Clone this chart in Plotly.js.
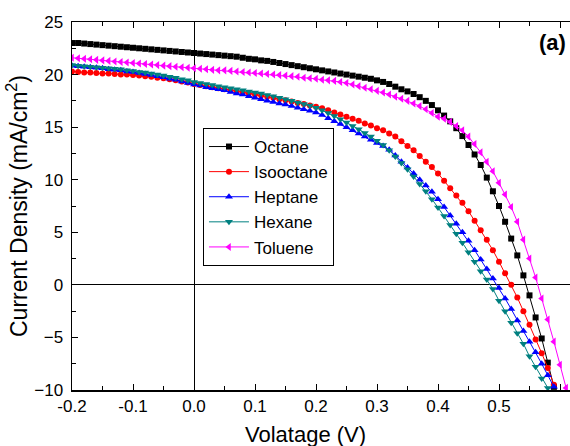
<!DOCTYPE html>
<html>
<head>
<meta charset="utf-8">
<script src="https://cdn.plot.ly/plotly-3.0.1.min.js"></script>
<style>html,body{margin:0;padding:0;background:#fff;}#chart{width:570px;height:446px;}</style>
</head>
<body>
<div id="chart"></div>
<script>
// Voltage grid (V)
var voltage = [-0.20,-0.19,-0.18,-0.17,-0.16,-0.15,-0.14,-0.13,-0.12,-0.11,
  -0.10,-0.09,-0.08,-0.07,-0.06,-0.05,-0.04,-0.03,-0.02,-0.01,
  0.00,0.01,0.02,0.03,0.04,0.05,0.06,0.07,0.08,0.09,
  0.10,0.11,0.12,0.13,0.14,0.15,0.16,0.17,0.18,0.19,
  0.20,0.21,0.22,0.23,0.24,0.25,0.26,0.27,0.28,0.29,
  0.30,0.31,0.32,0.33,0.34,0.35,0.36,0.37,0.38,0.39,
  0.40,0.41,0.42,0.43,0.44,0.45,0.46,0.47,0.48,0.49,
  0.50,0.51,0.52,0.53,0.54,0.55,0.56,0.57,0.58,0.59,
  0.60,0.61];

var seriesNames = ["Octane","Isooctane","Heptane","Hexane","Toluene"];

var octane = [23.0,23.0,22.95,22.9,22.85,22.8,22.75,22.7,22.65,22.6,
  22.55,22.5,22.45,22.4,22.35,22.3,22.25,22.2,22.15,22.1,
  22.05,22.0,21.95,21.9,21.85,21.8,21.75,21.7,21.6,21.5,
  21.45,21.35,21.3,21.2,21.1,21.0,20.9,20.8,20.7,20.6,
  20.5,20.4,20.3,20.2,20.1,20.0,19.9,19.8,19.7,19.6,
  19.45,19.3,19.1,18.85,18.6,18.4,18.15,17.85,17.5,17.1,
  16.6,16.1,15.55,14.9,14.15,13.3,12.4,11.4,10.2,8.9,
  7.5,6.0,4.4,2.8,0.9,-1.0,-3.1,-5.1,-7.4,-9.7];

var isooctane = [20.3,20.25,20.2,20.2,20.15,20.1,20.1,20.05,20.0,20.0,
  19.95,19.9,19.85,19.8,19.7,19.65,19.55,19.45,19.35,19.25,
  19.1,19.0,18.9,18.8,18.7,18.6,18.5,18.4,18.3,18.2,
  18.1,18.0,17.9,17.8,17.65,17.55,17.45,17.3,17.2,17.05,
  16.95,16.8,16.6,16.4,16.2,16.0,15.8,15.6,15.35,15.15,
  14.9,14.7,14.4,14.1,13.65,13.2,12.8,12.25,11.7,11.2,
  10.6,9.9,9.2,8.5,7.8,7.0,6.1,5.2,4.3,3.3,
  2.2,1.1,0.0,-1.2,-2.5,-3.8,-5.2,-6.5,-7.9,-9.5];

var heptane = [20.85,20.8,20.75,20.7,20.65,20.6,20.5,20.45,20.4,20.3,
  20.25,20.15,20.05,19.95,19.85,19.75,19.6,19.5,19.35,19.2,
  19.05,18.95,18.8,18.7,18.6,18.5,18.35,18.2,18.1,17.95,
  17.8,17.65,17.5,17.4,17.25,17.15,17.0,16.85,16.7,16.55,
  16.4,16.15,15.85,15.55,15.3,15.0,14.7,14.4,14.1,13.8,
  13.5,13.2,12.85,12.3,11.7,11.15,10.6,10.0,9.45,8.85,
  8.15,7.4,6.6,5.8,5.0,4.2,3.3,2.4,1.5,0.6,
  -0.3,-1.3,-2.3,-3.4,-4.4,-5.4,-6.4,-7.5,-8.6,-9.7];

var hexane = [20.9,20.85,20.8,20.75,20.7,20.65,20.6,20.55,20.5,20.4,
  20.35,20.25,20.2,20.1,20.0,19.9,19.8,19.7,19.55,19.45,
  19.3,19.2,19.1,19.0,18.9,18.8,18.7,18.6,18.5,18.4,
  18.3,18.2,18.05,17.95,17.8,17.65,17.5,17.35,17.2,17.05,
  16.85,16.6,16.35,16.05,15.75,15.45,15.1,14.8,14.45,14.1,
  13.7,13.3,12.8,12.2,11.6,11.0,10.3,9.6,8.9,8.15,
  7.35,6.55,5.7,4.85,4.0,3.1,2.2,1.3,0.5,-0.4,
  -1.5,-2.5,-3.6,-4.6,-5.6,-6.8,-7.8,-8.9,-9.8];

var toluene = [21.6,21.55,21.5,21.45,21.4,21.35,21.3,21.25,21.2,21.15,
  21.1,21.05,21.0,20.95,20.9,20.85,20.8,20.75,20.7,20.65,
  20.6,20.55,20.5,20.45,20.4,20.4,20.35,20.3,20.25,20.2,
  20.15,20.1,20.05,20.0,19.95,19.9,19.85,19.8,19.7,19.65,
  19.6,19.5,19.45,19.4,19.3,19.2,19.05,18.9,18.75,18.6,
  18.45,18.3,18.1,17.9,17.7,17.5,17.25,17.0,16.7,16.35,
  16.0,15.8,15.5,15.1,14.7,14.1,13.4,12.6,11.7,10.8,
  9.7,8.6,7.4,6.0,4.3,2.5,0.7,-1.3,-3.3,-5.4,
  -7.6,-9.8];

var xTickVals = [-0.2,-0.1,0.0,0.1,0.2,0.3,0.4,0.5,0.6];
var xTickText = ["-0.2","-0.1","0.0","0.1","0.2","0.3","0.4","0.5","0.6"];
var yTickVals = [-10,-5,0,5,10,15,20,25];

var seriesData = [octane, isooctane, heptane, hexane, toluene];
var colors = ["#000000","#ff0000","#0000ff","#008080","#ff00ff"];
var symbols = ["square","circle","triangle-up","triangle-down","triangle-left"];
var sizes = [6,6,7,7,7];

var FONT = "Arial, 'Liberation Sans', sans-serif";

var traces = seriesData.map(function(vals, i){
  return {
    x: voltage.slice(0, vals.length),
    y: vals,
    name: seriesNames[i],
    type: "scatter",
    mode: "lines+markers",
    line: {color: colors[i], width: 1},
    marker: {symbol: symbols[i], size: sizes[i], color: colors[i]},
    cliponaxis: true
  };
});

var layout = {
  width: 570, height: 446,
  margin: {l: 72, r: 0, t: 22, b: 56, pad: 0},
  paper_bgcolor: "#fff", plot_bgcolor: "#fff",
  font: {family: FONT, size: 17, color: "#000"},
  showlegend: true,
  legend: {
    x: 0.263, y: 0.712, xanchor: "left", yanchor: "top",
    bordercolor: "#000", borderwidth: 1, bgcolor: "#fff",
    font: {family: FONT, size: 17, color: "#000"},
    itemwidth: 40,
    tracegroupgap: 0
  },
  xaxis: {
    range: [-0.2, 0.6164],
    tickvals: xTickVals, ticktext: xTickText,
    ticks: "inside", ticklen: 6, tickwidth: 1, tickcolor: "#000",
    minor: {dtick: 0.05, tick0: 0, ticks: "inside", ticklen: 4, tickcolor: "#000", tickwidth: 1},
    showline: true, linecolor: "#000", linewidth: 1.5, mirror: "ticks",
    showgrid: false,
    zeroline: true, zerolinecolor: "#000", zerolinewidth: 1,
    tickfont: {family: FONT, size: 17, color: "#000"},
    automargin: false
  },
  yaxis: {
    range: [-10, 25],
    tickvals: yTickVals,
    ticks: "inside", ticklen: 6, tickwidth: 1, tickcolor: "#000",
    minor: {dtick: 2.5, tick0: 0, ticks: "inside", ticklen: 4, tickcolor: "#000", tickwidth: 1},
    showline: true, linecolor: "#000", linewidth: 1.5, mirror: false,
    showgrid: false,
    zeroline: true, zerolinecolor: "#000", zerolinewidth: 1,
    tickfont: {family: FONT, size: 17, color: "#000"},
    ticklabelstandoff: 4,
    title: {text: "Current Density (mA/cm<sup>2</sup>)", font: {family: FONT, size: 23, color: "#000"}, standoff: 0},
    automargin: false
  },
  annotations: [
    {
      text: "<b>(a)</b>", xref: "paper", yref: "paper", x: 0.964, y: 0.943,
      xanchor: "center", yanchor: "middle", showarrow: false,
      font: {family: FONT, size: 22, color: "#000"}
    },
    {
      text: "Volatage (V)", xref: "paper", yref: "paper", x: 0.468, y: -0.122,
      xanchor: "center", yanchor: "middle", showarrow: false,
      font: {family: FONT, size: 22, color: "#000"}
    }
  ]
};

Plotly.newPlot("chart", traces, layout, {displayModeBar: false, staticPlot: true});
</script>
</body>
</html>
